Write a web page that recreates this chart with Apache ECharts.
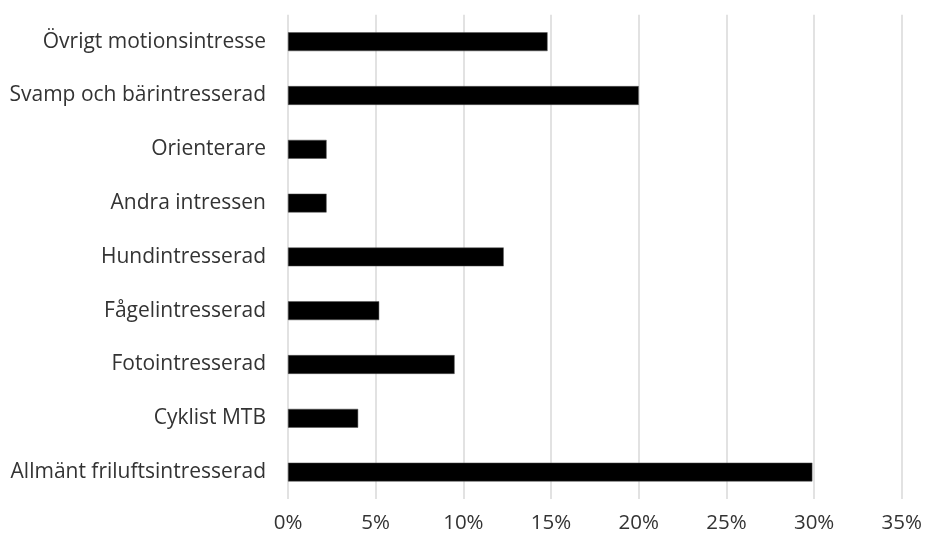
<!DOCTYPE html>
<html><head><meta charset="utf-8">
<script src="https://cdn.jsdelivr.net/npm/echarts@6/dist/echarts.min.js"></script>
<style>html,body{margin:0;padding:0;background:#fff}#c{width:925px;height:540px}</style>
</head><body><div id="c"></div>
<script>
const categories = ["Allmänt friluftsintresserad","Cyklist MTB","Fotointresserad","Fågelintresserad","Hundintresserad","Andra intressen","Orienterare","Svamp och bärintresserad","Övrigt motionsintresse"];
const values = [29.9, 4.0, 9.5, 5.2, 12.3, 2.2, 2.2, 20.0, 14.8];
const chart = echarts.init(document.getElementById('c'));
chart.setOption({
  animation:false,
  grid:{left:288,right:22.7,top:14.8,bottom:41,containLabel:false},
  xAxis:{type:'value',min:0,max:35,interval:5,
    axisLabel:{formatter:'{value}%',color:'#333',fontFamily:'Open Sans',fontSize:20.5,margin:14},
    axisLine:{show:false},axisTick:{show:false},
    splitLine:{lineStyle:{color:'#d9d9d9',width:1.5}}},
  yAxis:{type:'category',data:categories,
    axisLabel:{color:'#333',fontFamily:'Open Sans',fontSize:21,margin:22},
    axisLine:{show:false},axisTick:{show:false}},
  series:[{type:'bar',data:values,barCategoryGap:'65%',
    itemStyle:{color:'#000',borderColor:'#555',borderWidth:0.5}}]
});
</script></body></html>
